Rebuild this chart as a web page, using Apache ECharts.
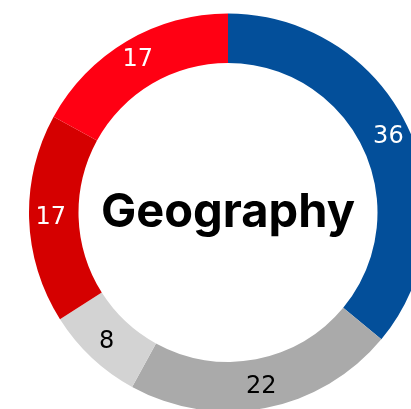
<!DOCTYPE html>
<html><head><meta charset="utf-8">
<script src="https://cdn.jsdelivr.net/npm/echarts@6/dist/echarts.min.js"></script>
<style>html,body{margin:0;padding:0;background:#fff}#c{width:411px;height:409px}</style>
</head><body><div id="c"></div>
<script>
const categories = ['A', 'B', 'C', 'D', 'E'];
const values = [36, 22, 8, 17, 17];
const colors = ['#034f9a', '#aaaaaa', '#d3d3d3', '#d50000', '#ff0013'];
const labelColors = ['#ffffff', '#000000', '#000000', '#ffffff', '#ffffff'];
const centerTitle = 'Geography';

const chart = echarts.init(document.getElementById('c'), null, {renderer: 'canvas'});
chart.setOption({
  animation: false,
  graphic: [{
    type: 'text',
    x: 228, y: 213,
    style: {
      text: centerTitle, x: 0, y: 0, align: 'center', verticalAlign: 'middle',
      font: '700 47px Inter', fill: '#000'
    }
  }],
  series: [{
    type: 'pie',
    center: [228, 212.5],
    radius: [149.5, 199],
    startAngle: 90,
    clockwise: true,
    silent: true,
    avoidLabelOverlap: false,
    labelLine: {show: false},
    data: categories.map((c, i) => ({
      name: c, value: values[i],
      itemStyle: {color: colors[i]},
      label: {color: labelColors[i]}
    })),
    label: {
      show: true, position: 'inside', formatter: '{c}',
      fontFamily: 'DejaVu Sans', fontSize: 24
    }
  }]
});
</script></body></html>
